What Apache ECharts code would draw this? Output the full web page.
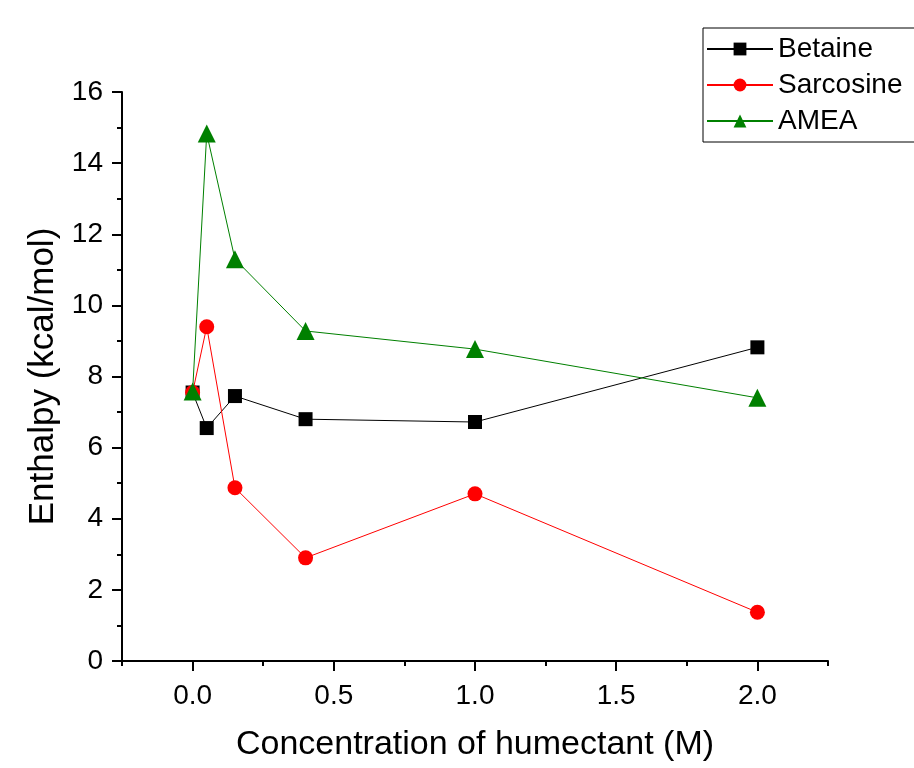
<!DOCTYPE html>
<html>
<head>
<meta charset="utf-8">
<script src="https://cdn.jsdelivr.net/npm/echarts@6/dist/echarts.min.js"></script>
<style>
  html, body { margin: 0; padding: 0; background: #fff; }
  #main { width: 914px; height: 768px; }
</style>
</head>
<body>
<div id="main"></div>
<script>
var concentration = [0, 0.05, 0.15, 0.4, 1.0, 2.0];
var betaine = [7.55, 6.55, 7.45, 6.8, 6.72, 8.82];
var sarcosine = [7.55, 9.4, 4.87, 2.9, 4.7, 1.37];
var amea = [7.58, 14.83, 11.3, 9.28, 8.77, 7.4];
var xMajorTicks = [0, 0.5, 1.0, 1.5, 2.0];

function pairs(ys) {
    return concentration.map(function (x, i) { return [x, ys[i]]; });
}

var myChart = echarts.init(document.getElementById('main'));
var option = {
    animation: false,
    backgroundColor: '#fff',
    legend: {
        left: 703,
        top: 28,
        orient: 'vertical',
        itemWidth: 66,
        itemHeight: 16,
        itemGap: 8,
        padding: [7, 20, 7, 3],
        borderColor: '#000',
        borderWidth: 1,
        textStyle: { fontFamily: 'Liberation Sans', fontSize: 28, color: '#000' },
        data: ['Betaine', 'Sarcosine', 'AMEA']
    },
    grid: { left: 122, right: 86, top: 92, bottom: 107 },
    xAxis: [
        {
            type: 'value',
            min: -0.25,
            max: 2.25,
            name: 'Concentration of humectant (M)',
            nameLocation: 'middle',
            nameGap: 67,
            nameTextStyle: { fontFamily: 'Liberation Sans', fontSize: 34, color: '#000' },
            splitLine: { show: false },
            axisLine: { onZero: false, lineStyle: { color: '#000', width: 2 } },
            axisTick: { show: true, length: 10, lineStyle: { color: '#000', width: 2 }, customValues: xMajorTicks },
            axisLabel: {
                customValues: xMajorTicks,
                margin: 21,
                fontFamily: 'Liberation Sans',
                fontSize: 28,
                color: '#000',
                formatter: function (v) { return v.toFixed(1); }
            }
        },
        {
            type: 'value',
            position: 'bottom',
            min: -0.25,
            max: 2.25,
            interval: 0.25,
            axisLine: { show: false },
            splitLine: { show: false },
            axisTick: { show: true, length: 5, lineStyle: { color: '#000', width: 2 } },
            axisLabel: { show: false }
        }
    ],
    yAxis: {
        type: 'value',
        min: 0,
        max: 16,
        interval: 2,
        name: 'Enthalpy (kcal/mol)',
        nameLocation: 'middle',
        nameGap: 57,
        nameTextStyle: { fontFamily: 'Liberation Sans', fontSize: 35, color: '#000' },
        splitLine: { show: false },
        axisLine: { show: true, onZero: false, lineStyle: { color: '#000', width: 2 } },
        axisTick: { show: true, length: 10, lineStyle: { color: '#000', width: 2 } },
        minorTick: { show: true, splitNumber: 2, length: 5, lineStyle: { color: '#000', width: 2 } },
        axisLabel: { margin: 19, fontFamily: 'Liberation Sans', fontSize: 28, color: '#000' }
    },
    series: [
        {
            name: 'Betaine',
            type: 'line',
            data: pairs(betaine),
            symbol: 'rect',
            symbolSize: 14,
            itemStyle: { color: '#000' },
            lineStyle: { color: '#000', width: 1 }
        },
        {
            name: 'Sarcosine',
            type: 'line',
            data: pairs(sarcosine),
            symbol: 'circle',
            symbolSize: 15,
            itemStyle: { color: '#ff0000' },
            lineStyle: { color: '#ff0000', width: 1 }
        },
        {
            name: 'AMEA',
            type: 'line',
            data: pairs(amea),
            symbol: 'triangle',
            symbolSize: 18,
            itemStyle: { color: '#008000' },
            lineStyle: { color: '#008000', width: 1 }
        }
    ]
};
myChart.setOption(option);
</script>
</body>
</html>
